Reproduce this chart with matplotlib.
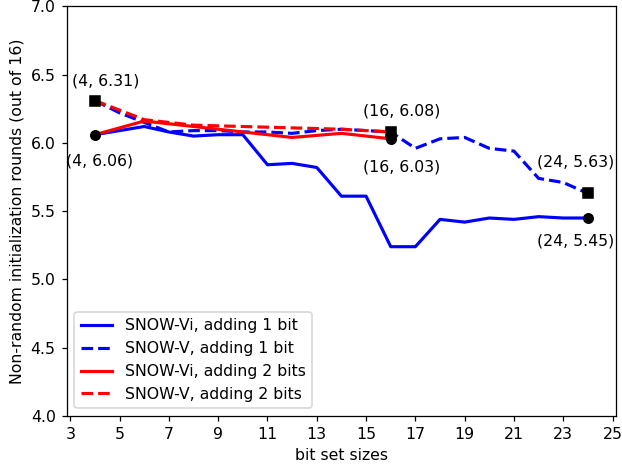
import matplotlib
matplotlib.use("Agg")
import matplotlib.pyplot as plt

# SNOW-Vi / SNOW-V, adding 1 bit (bit set sizes 4..24)
sizes_1bit = list(range(4, 25))
snow_vi_1bit = [6.06, 6.09, 6.12, 6.08, 6.05, 6.06, 6.06, 5.84, 5.85, 5.82, 5.61,
                5.61, 5.24, 5.24, 5.44, 5.42, 5.45, 5.44, 5.46, 5.45, 5.45]
snow_v_1bit = [6.31, 6.22, 6.15, 6.08, 6.09, 6.09, 6.08, 6.08, 6.07, 6.09, 6.10,
               6.09, 6.08, 5.96, 6.03, 6.04, 5.96, 5.94, 5.74, 5.71, 5.63]

# adding 2 bits (bit set sizes 4..16, step 2)
sizes_2bit = [4, 6, 8, 10, 12, 14, 16]
snow_vi_2bit = [6.06, 6.16, 6.12, 6.08, 6.04, 6.07, 6.03]
snow_v_2bit = [6.31, 6.17, 6.13, 6.12, 6.11, 6.10, 6.08]

circle_pts = [(4, 6.06), (16, 6.03), (24, 5.45)]
square_pts = [(4, 6.31), (16, 6.08), (24, 5.63)]
# label offsets in pixels (dx, dy), matched to the points above
circle_offsets = [(5, -26), (11, -28), (-12, -23)]
square_offsets = [(11, 20), (11, 21), (-12, 31)]

DPI = 113
fig = plt.figure(figsize=(622 / DPI, 468 / DPI), dpi=DPI)
ax = fig.add_axes([0.107, 0.111, 0.883, 0.8755])

ax.plot(sizes_1bit, snow_vi_1bit, "b-", lw=2, label="SNOW-Vi, adding 1 bit")
ax.plot(sizes_1bit, snow_v_1bit, "b--", lw=2, label="SNOW-V, adding 1 bit")
ax.plot(sizes_2bit, snow_vi_2bit, "r-", lw=2, label="SNOW-Vi, adding 2 bits")
ax.plot(sizes_2bit, snow_v_2bit, "r--", lw=2, label="SNOW-V, adding 2 bits")

for (x, y), (dx, dy) in zip(circle_pts, circle_offsets):
    ax.plot(x, y, "ko", ms=6)
    ax.annotate(f"({x}, {y:.2f})", (x, y), xytext=(dx, dy),
                textcoords="offset pixels", ha="center", va="center")
for (x, y), (dx, dy) in zip(square_pts, square_offsets):
    ax.plot(x, y, "ks", ms=6)
    ax.annotate(f"({x}, {y:.2f})", (x, y), xytext=(dx, dy),
                textcoords="offset pixels", ha="center", va="center")

ax.set_xlim(2.85, 25.13)
ax.set_ylim(4.0, 7.0)
ax.set_xticks(range(3, 26, 2))
ax.set_xlabel("bit set sizes")
ax.set_ylabel("Non-random initialization rounds (out of 16)")
ax.legend(loc="lower left")

fig.savefig("out.png", dpi=DPI)
